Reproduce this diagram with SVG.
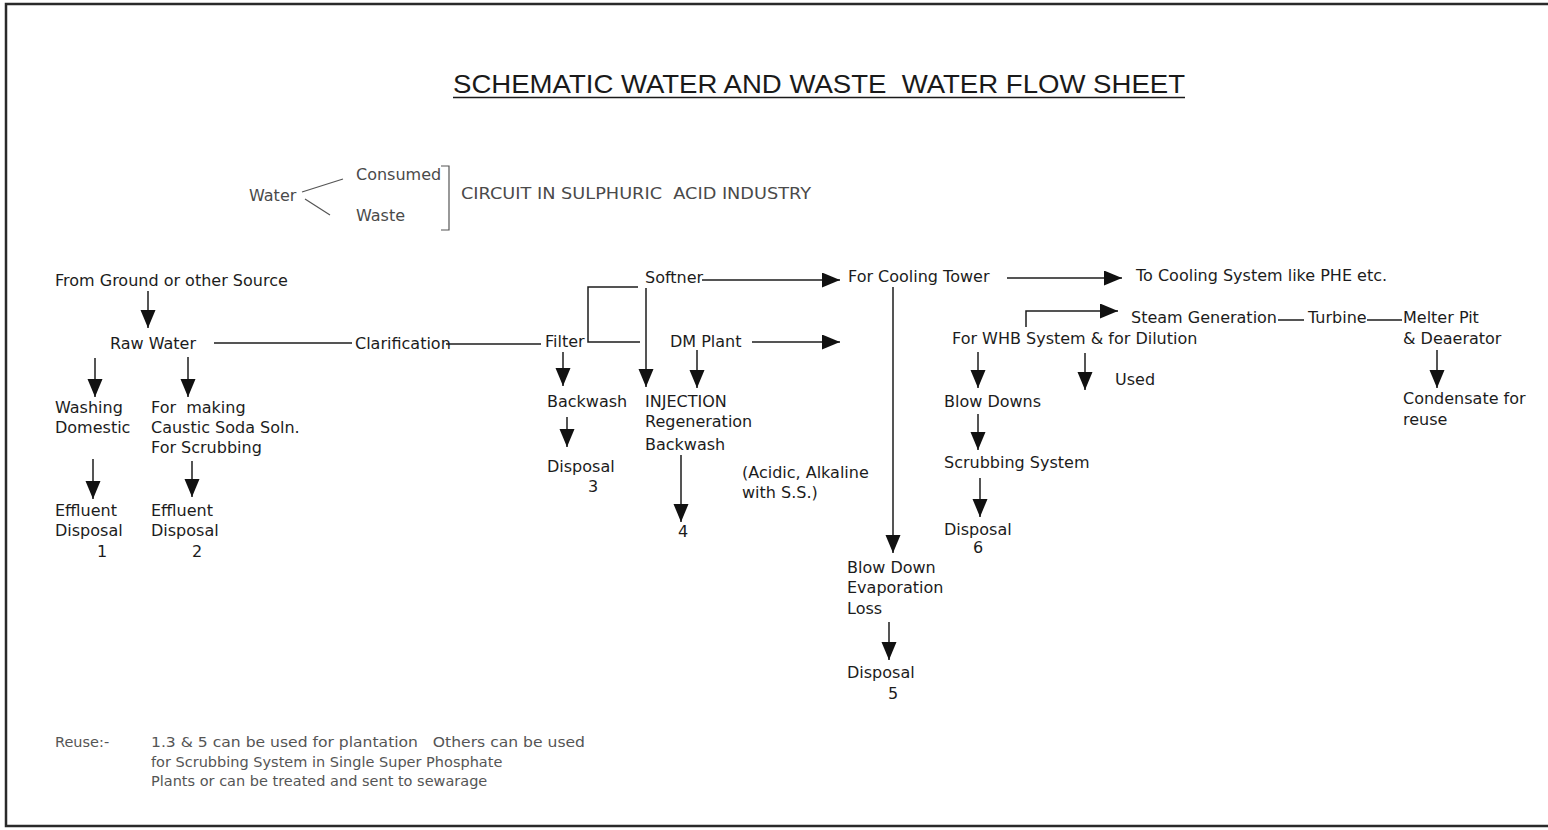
<svg xmlns="http://www.w3.org/2000/svg" width="1548" height="830" viewBox="0 0 1548 830">
<style>
text{font-family:"DejaVu Sans","Liberation Sans",Arial,sans-serif;font-size:16px;fill:#1c1c1c}
.lg{fill:#4a4a4a}
.nt{font-size:14.5px;fill:#555}
.title{font-family:"Liberation Sans",Arial,sans-serif;font-size:26px;fill:#1a1a1a}
.c{fill:none;stroke:#1c1c1c;stroke-width:1.5}
.a{marker-end:url(#ah)}
.lgl{fill:none;stroke:#555;stroke-width:1.2}
.border{fill:none;stroke:#2a2a2a;stroke-width:2.5}
</style>
<defs>
<marker id="ah" markerUnits="userSpaceOnUse" markerWidth="20" markerHeight="16" refX="18" refY="7.5" orient="auto">
<path d="M0,0 L18,7.5 L0,15 z" fill="#111"/>
</marker>
</defs>
<rect width="1548" height="830" fill="#fff"/>
<path class="border" d="M1548,4 H6 V826 H1548"/>

<g id="title">
<text class="title" x="453" y="93" textLength="732" lengthAdjust="spacingAndGlyphs" xml:space="preserve">SCHEMATIC WATER AND WASTE  WATER FLOW SHEET</text>
<line x1="453" y1="97.5" x2="1185" y2="97.5" stroke="#1a1a1a" stroke-width="1.6"/>
</g>

<g id="legend">
<text class="lg" x="249" y="201">Water</text>
<text class="lg" x="356" y="180">Consumed</text>
<text class="lg" x="356" y="221">Waste</text>
<path class="lgl" d="M302,192 L343,179 M305,199 L330,215"/>
<path class="lgl" d="M441,166 H449 V230 H441"/>
<text class="lg" x="461" y="199" textLength="350" lengthAdjust="spacingAndGlyphs" xml:space="preserve">CIRCUIT IN SULPHURIC  ACID INDUSTRY</text>
</g>

<g id="connectors">
<line class="c a" x1="148" y1="291" x2="148" y2="328"/>
<line class="c a" x1="95" y1="358" x2="95" y2="397"/>
<line class="c a" x1="188" y1="357" x2="188" y2="397"/>
<line class="c a" x1="93" y1="459" x2="93" y2="499"/>
<line class="c a" x1="192" y1="461" x2="192" y2="497"/>
<line class="c" x1="214" y1="343" x2="352" y2="343"/>
<line class="c" x1="446" y1="344" x2="541" y2="344"/>
<path class="c" d="M640,342 H588 V287 H638"/>
<line class="c a" x1="646" y1="288" x2="646" y2="387"/>
<line class="c a" x1="702" y1="280" x2="840" y2="280"/>
<line class="c a" x1="752" y1="342" x2="840" y2="342"/>
<line class="c a" x1="697" y1="350" x2="697" y2="388"/>
<line class="c a" x1="563" y1="352" x2="563" y2="386"/>
<line class="c a" x1="567" y1="417" x2="567" y2="447"/>
<line class="c a" x1="681" y1="455" x2="681" y2="522"/>
<line class="c a" x1="1007" y1="278" x2="1122" y2="278"/>
<line class="c a" x1="893" y1="287" x2="893" y2="553"/>
<line class="c a" x1="889" y1="622" x2="889" y2="660"/>
<path class="c a" d="M1026,327 V311 H1118"/>
<line class="c" x1="1278" y1="320" x2="1304" y2="320"/>
<line class="c" x1="1367" y1="320" x2="1402" y2="320"/>
<line class="c a" x1="1437" y1="350" x2="1437" y2="388"/>
<line class="c a" x1="978" y1="352" x2="978" y2="388"/>
<line class="c a" x1="1085" y1="353" x2="1085" y2="390"/>
<line class="c a" x1="978" y1="414" x2="978" y2="450"/>
<line class="c a" x1="980" y1="478" x2="980" y2="517"/>
</g>

<g id="source"><text x="55" y="286">From Ground or other Source</text></g>
<g id="raw-water"><text x="110" y="349">Raw Water</text></g>
<g id="clarification"><text x="355" y="349">Clarification</text></g>
<g id="filter"><text x="545" y="347">Filter</text></g>
<g id="softner"><text x="645" y="283">Softner</text></g>
<g id="dm-plant"><text x="670" y="347">DM Plant</text></g>
<g id="cooling-tower"><text x="848" y="282">For Cooling Tower</text></g>
<g id="cooling-system"><text x="1136" y="281">To Cooling System like PHE etc.</text></g>
<g id="steam-generation"><text x="1131" y="323">Steam Generation</text></g>
<g id="turbine"><text x="1308" y="323">Turbine</text></g>
<g id="melter-pit"><text x="1403" y="323">Melter Pit</text><text x="1403" y="344">&amp; Deaerator</text></g>
<g id="condensate"><text x="1403" y="404">Condensate for</text><text x="1403" y="425">reuse</text></g>
<g id="whb"><text x="952" y="344">For WHB System &amp; for Dilution</text></g>
<g id="used"><text x="1115" y="385">Used</text></g>
<g id="blow-downs"><text x="944" y="407">Blow Downs</text></g>
<g id="scrubbing-system"><text x="944" y="468">Scrubbing System</text></g>
<g id="disposal-6"><text x="944" y="535">Disposal</text><text x="973" y="553">6</text></g>
<g id="blow-down-loss"><text x="847" y="573">Blow Down</text><text x="847" y="593">Evaporation</text><text x="847" y="614">Loss</text></g>
<g id="disposal-5"><text x="847" y="678">Disposal</text><text x="888" y="699">5</text></g>
<g id="washing"><text x="55" y="413">Washing</text><text x="55" y="433">Domestic</text></g>
<g id="caustic"><text x="151" y="413" xml:space="preserve">For  making</text><text x="151" y="433">Caustic Soda Soln.</text><text x="151" y="453">For Scrubbing</text></g>
<g id="disposal-1"><text x="55" y="516">Effluent</text><text x="55" y="536">Disposal</text><text x="97" y="557">1</text></g>
<g id="disposal-2"><text x="151" y="516">Effluent</text><text x="151" y="536">Disposal</text><text x="192" y="557">2</text></g>
<g id="backwash"><text x="547" y="407">Backwash</text></g>
<g id="disposal-3"><text x="547" y="472">Disposal</text><text x="588" y="492">3</text></g>
<g id="injection"><text x="645" y="407">INJECTION</text><text x="645" y="427">Regeneration</text><text x="645" y="450">Backwash</text></g>
<g id="disposal-4"><text x="678" y="537">4</text></g>
<g id="acidic-note"><text x="742" y="478">(Acidic, Alkaline</text><text x="742" y="498">with S.S.)</text></g>

<g id="reuse-note">
<text class="nt" x="55" y="747">Reuse:-</text>
<text class="nt" x="151" y="747" textLength="434" lengthAdjust="spacingAndGlyphs" xml:space="preserve">1.3 &amp; 5 can be used for plantation   Others can be used</text>
<text class="nt" x="151" y="767">for Scrubbing System in Single Super Phosphate</text>
<text class="nt" x="151" y="786">Plants or can be treated and sent to sewarage</text>
</g>
</svg>
